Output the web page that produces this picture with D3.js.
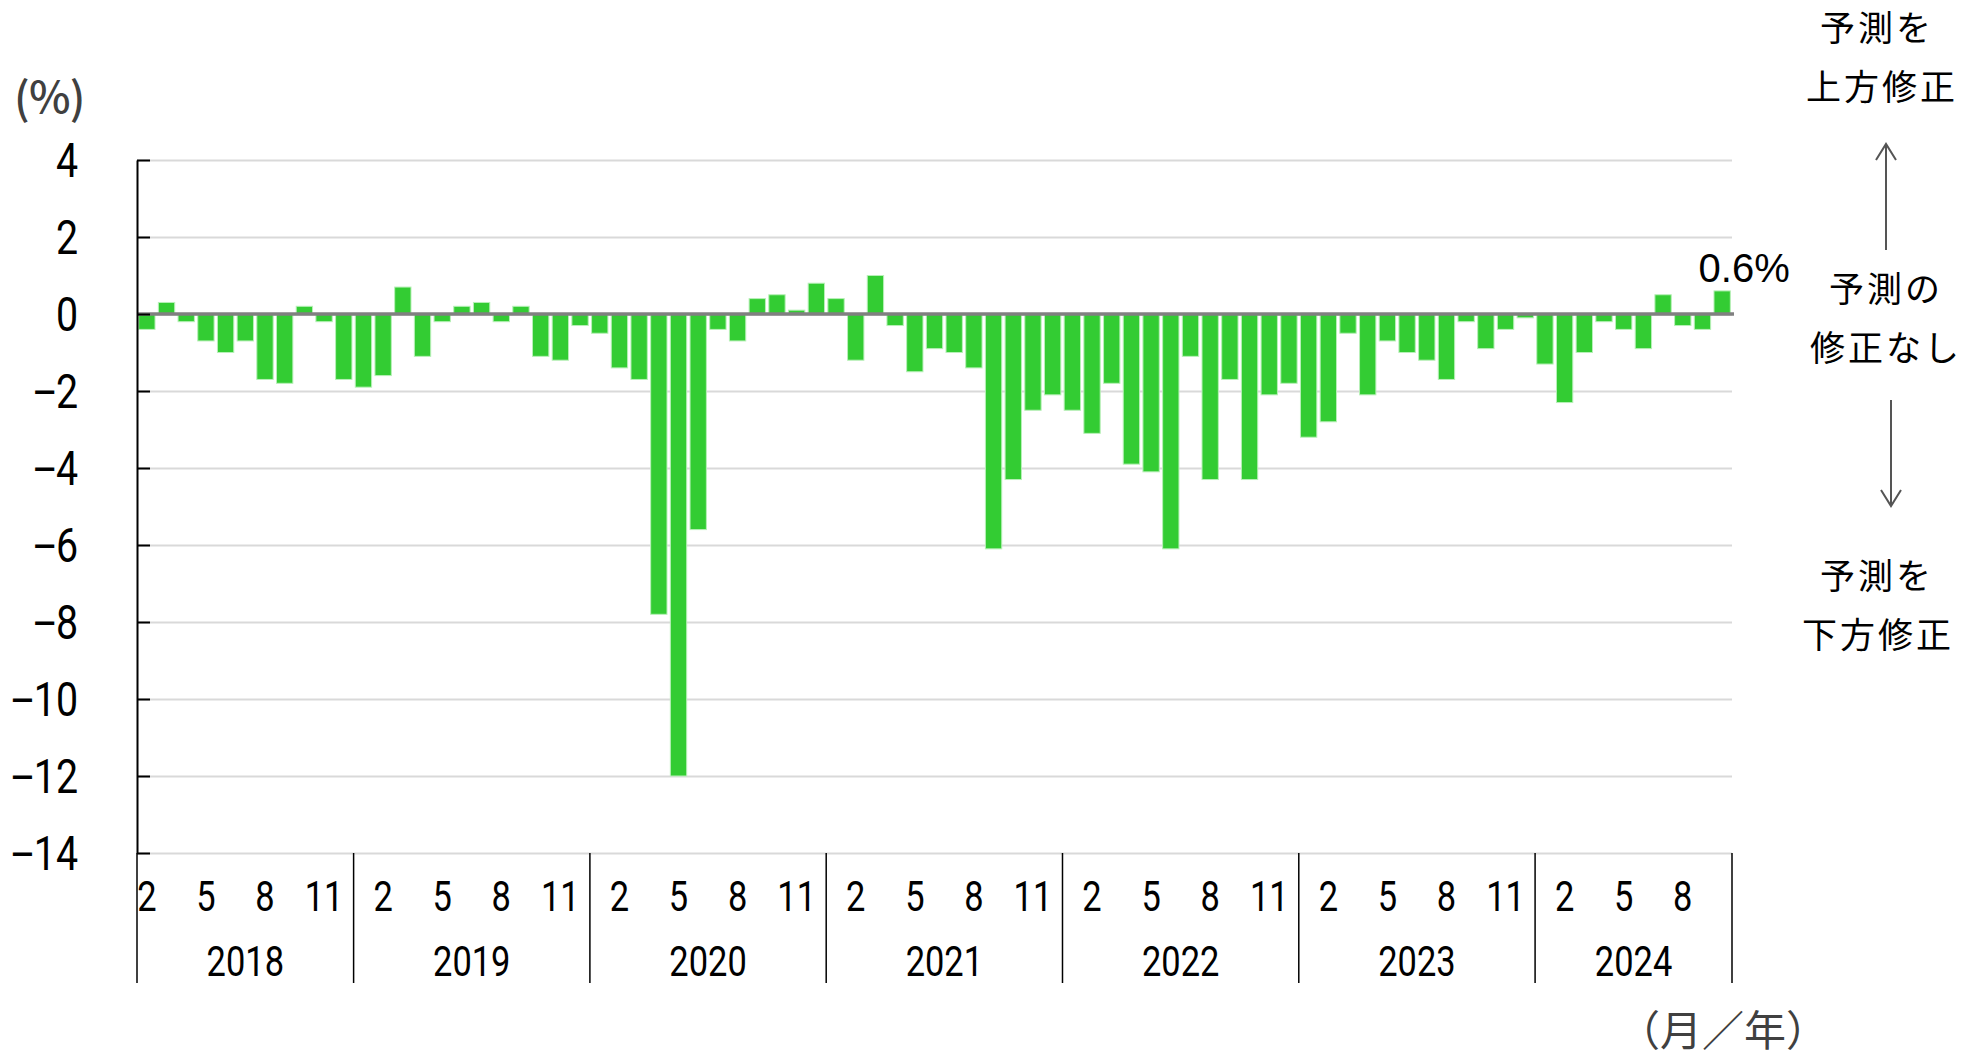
<!DOCTYPE html>
<html>
<head>
<meta charset="utf-8">
<script src="https://cdn.jsdelivr.net/npm/d3@7"></script>
<style>
  body { margin: 0; background: #fff; }
  svg { display: block; }
</style>
</head>
<body>
<svg id="chart" width="1982" height="1059"></svg>
<script>
// Forecast revision (%), monthly, Feb 2018 - Oct 2024
var years = [2018, 2019, 2020, 2021, 2022, 2023, 2024];
var startMonths = [2, 1, 1, 1, 1, 1, 1];
var rev2018 = [-0.4, 0.3, -0.2, -0.7, -1.0, -0.7, -1.7, -1.8, 0.2, -0.2, -1.7];
var rev2019 = [-1.9, -1.6, 0.7, -1.1, -0.2, 0.2, 0.3, -0.2, 0.2, -1.1, -1.2, -0.3];
var rev2020 = [-0.5, -1.4, -1.7, -7.8, -12.0, -5.6, -0.4, -0.7, 0.4, 0.5, 0.1, 0.8];
var rev2021 = [0.4, -1.2, 1.0, -0.3, -1.5, -0.9, -1.0, -1.4, -6.1, -4.3, -2.5, -2.1];
var rev2022 = [-2.5, -3.1, -1.8, -3.9, -4.1, -6.1, -1.1, -4.3, -1.7, -4.3, -2.1, -1.8];
var rev2023 = [-3.2, -2.8, -0.5, -2.1, -0.7, -1.0, -1.2, -1.7, -0.2, -0.9, -0.4, -0.1];
var rev2024 = [-1.3, -2.3, -1.0, -0.2, -0.4, -0.9, 0.5, -0.3, -0.4, 0.6];
var yearValues = [rev2018, rev2019, rev2020, rev2021, rev2022, rev2023, rev2024];

var monthTicks = [2, 5, 8, 11];
var yTicks = [4, 2, 0, -2, -4, -6, -8, -10, -12, -14];
var lastLabel = "0.6%";

// layout
var PLOT_LEFT = 137, PLOT_RIGHT = 1732, PLOT_TOP = 160, PLOT_BOTTOM = 853;
var BAR_COLOR = "#33cc33";
var NUM_FONT = "Roboto, 'Liberation Sans', sans-serif";
var NARROW = 0.82;   // digits in the source are condensed
var JP_FONT = "'Noto Sans CJK JP', 'Noto Sans', sans-serif";

// flatten into one row per month
var rows = [];
years.forEach(function(yr, yi) {
  yearValues[yi].forEach(function(v, mi) {
    rows.push({ key: yr + "-" + (startMonths[yi] + mi), year: yr, month: startMonths[yi] + mi, value: v });
  });
});

var svg = d3.select("#chart");

var x = d3.scaleBand()
  .domain(rows.map(function(d) { return d.key; }))
  .range([PLOT_LEFT, PLOT_RIGHT])
  .paddingInner(0.17)
  .paddingOuter(0.085);

var y = d3.scaleLinear()
  .domain([-14, 4])
  .range([PLOT_BOTTOM, PLOT_TOP]);

var step = x.step();
var gap = step - x.bandwidth();

function narrowAt(px, py) {
  return "translate(" + px + "," + py + ") scale(" + NARROW + ",1)";
}

/***** gridlines *****/
svg.append("g")
  .attr("transform", "translate(" + PLOT_LEFT + ",0)")
  .call(d3.axisRight(y).tickValues(yTicks).tickSize(PLOT_RIGHT - PLOT_LEFT).tickFormat(""))
  .call(function(g) {
    g.select(".domain").remove();
    g.selectAll("line").attr("stroke", "#d9d9d9").attr("stroke-width", 2);
  });

/***** bars *****/
svg.append("g")
  .selectAll("rect")
  .data(rows)
  .enter().append("rect")
  .attr("x", function(d) { return x(d.key); })
  .attr("width", x.bandwidth())
  .attr("y", function(d) { return y(Math.max(0, d.value)); })
  .attr("height", function(d) { return Math.abs(y(d.value) - y(0)); })
  .attr("fill", BAR_COLOR)
  .attr("stroke", "#b8f0b8")
  .attr("stroke-width", 1);

/***** zero line *****/
svg.append("line")
  .attr("x1", PLOT_LEFT).attr("x2", PLOT_RIGHT + 2)
  .attr("y1", y(0)).attr("y2", y(0))
  .attr("stroke", "#808080")
  .attr("stroke-width", 3.5);

/***** y axis *****/
svg.append("g")
  .attr("transform", "translate(" + PLOT_LEFT + ",0)")
  .call(d3.axisLeft(y).tickValues(yTicks).tickSizeInner(-13).tickSizeOuter(0).tickFormat(""))
  .call(function(g) {
    g.select(".domain").attr("stroke", "#000").attr("stroke-width", 2);
    g.selectAll(".tick line").attr("stroke", "#000").attr("stroke-width", 2);
  });

var yLab = svg.append("g").selectAll("text")
  .data(yTicks)
  .enter().append("text")
  .attr("transform", function(d) { return narrowAt(78, y(d) + 17); })
  .attr("text-anchor", "end")
  .style("font-family", NUM_FONT)
  .style("font-size", "48px");
yLab.filter(function(d) { return d < 0; })
  .append("tspan")
  .style("font-family", "'Liberation Sans', Arial, sans-serif")
  .text("\u2212");
yLab.append("tspan")
  .text(function(d) { return Math.abs(d); });

/***** category axis: months and years *****/
var catG = svg.append("g");

catG.selectAll("text.month")
  .data(rows.filter(function(d) { return monthTicks.indexOf(d.month) >= 0; }))
  .enter().append("text")
  .attr("class", "month")
  .attr("transform", function(d) { return narrowAt(x(d.key) + x.bandwidth() / 2, 911); })
  .attr("text-anchor", "middle")
  .style("font-family", NUM_FONT)
  .style("font-size", "42px")
  .text(function(d) { return d.month; });

var yearSpans = years.map(function(yr, yi) {
  var first = yr + "-" + startMonths[yi];
  var n = yearValues[yi].length;
  var x0 = x(first) - gap / 2;
  return { year: yr, x0: x0, x1: x0 + n * step };
});

var sepX = yearSpans.map(function(s) { return s.x0; });
sepX.push(yearSpans[yearSpans.length - 1].x1);

catG.selectAll("line.sep")
  .data(sepX)
  .enter().append("line")
  .attr("class", "sep")
  .attr("x1", function(d) { return d; })
  .attr("x2", function(d) { return d; })
  .attr("y1", PLOT_BOTTOM)
  .attr("y2", 983)
  .attr("stroke", "#000")
  .attr("stroke-width", 1.5);

catG.selectAll("text.year")
  .data(yearSpans)
  .enter().append("text")
  .attr("class", "year")
  .attr("transform", function(d) { return narrowAt((d.x0 + d.x1) / 2, 976); })
  .attr("text-anchor", "middle")
  .style("font-family", NUM_FONT)
  .style("font-size", "42px")
  .text(function(d) { return d.year; });

/***** last value label *****/
var lastRow = rows[rows.length - 1];
svg.append("text")
  .attr("x", x(lastRow.key) + x.bandwidth() / 2 + 22)
  .attr("y", y(lastRow.value) - 9)
  .attr("text-anchor", "middle")
  .style("font-family", "'Liberation Sans', Arial, sans-serif")
  .style("font-size", "40px")
  .text(lastLabel);

/***** unit labels *****/
svg.append("text")
  .attr("x", 14).attr("y", 114)
  .attr("fill", "#404040")
  .style("font-family", JP_FONT)
  .style("font-size", "44px")
  .style("font-weight", 500)
  .style("letter-spacing", "-2px")
  .text("(％)");

svg.append("text")
  .attr("x", 1618).attr("y", 1046)
  .attr("fill", "#404040")
  .style("font-family", JP_FONT)
  .style("font-size", "42px")
  .text("（月／年）");

/***** right-hand annotation *****/
var notes = [
  { text: "予測を", x: 1877, y: 28 },
  { text: "上方修正", x: 1882, y: 87 },
  { text: "予測の", x: 1886, y: 289 },
  { text: "修正なし", x: 1886, y: 348 },
  { text: "予測を", x: 1877, y: 576 },
  { text: "下方修正", x: 1878, y: 635 }
];
svg.append("g").selectAll("text")
  .data(notes)
  .enter().append("text")
  .attr("x", function(d) { return d.x; })
  .attr("y", function(d) { return d.y; })
  .attr("dy", "0.36em")
  .attr("text-anchor", "middle")
  .style("font-family", JP_FONT)
  .style("font-size", "35px")
  .style("letter-spacing", "3px")
  .text(function(d) { return d.text; });

function arrow(x0, yFrom, yTo) {
  var dir = yTo < yFrom ? -1 : 1;
  var g = svg.append("g").attr("stroke", "#555").attr("stroke-width", 2).attr("fill", "none");
  g.append("line").attr("x1", x0).attr("x2", x0).attr("y1", yFrom).attr("y2", yTo);
  g.append("path").attr("d", "M" + (x0 - 10) + "," + (yTo - dir * 16) + " L" + x0 + "," + yTo + " L" + (x0 + 10) + "," + (yTo - dir * 16));
}
arrow(1886, 250, 144);
arrow(1891, 400, 506);
</script>
</body>
</html>
